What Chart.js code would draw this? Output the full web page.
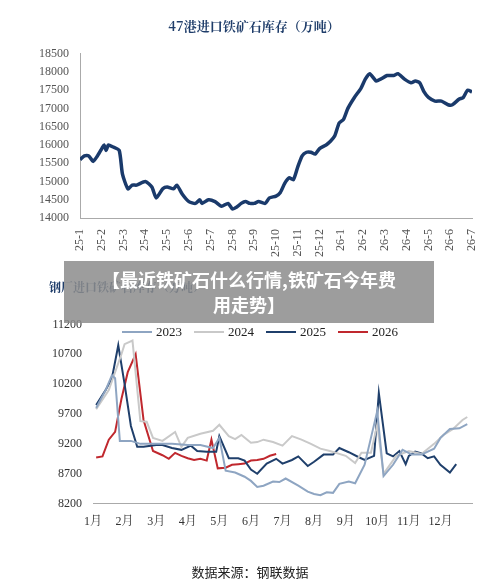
<!DOCTYPE html>
<html><head><meta charset="utf-8">
<script src="https://cdn.jsdelivr.net/npm/chart.js@4"></script>
<style>
body{margin:0;background:#fff;width:500px;height:586px;position:relative;overflow:hidden;font-family:"Liberation Serif","Noto Sans CJK SC",serif}
.w{position:absolute;left:0;width:500px}
#banner{position:absolute;left:64px;top:261px;width:370px;height:62px;background:rgba(140,140,140,0.85);color:#fff;font:bold 18px "Noto Sans CJK SC",sans-serif;text-align:center;line-height:25px;padding-top:6px;box-sizing:border-box}
#leg{position:absolute;top:324px;left:122px;font:13px "Liberation Serif","Noto Sans CJK SC",serif;color:#222;display:flex;gap:0}
#leg span{display:inline-flex;align-items:center;margin-right:12px}
#leg i{display:inline-block;width:30px;height:2.5px;margin-right:4px}
#foot{position:absolute;top:562px;left:0;width:500px;text-align:center;font:13px "Noto Sans CJK SC",sans-serif;color:#222}
</style></head><body>
<div class="w" style="top:0;height:260px"><canvas id="c1"></canvas></div>
<div class="w" style="top:260px;height:326px"><canvas id="c2"></canvas></div>
<div id="leg"></div>
<div id="foot">数据来源：钢联数据</div>
<div id="banner">【最近铁矿石什么行情,铁矿石今年费<br>用走势】</div>
<script>
const topMonths=["25-1","25-2","25-3","25-4","25-5","25-6","25-7","25-8","25-9","25-10","25-11","25-12","26-1","26-2","26-3","26-4","26-5","26-6","26-7"];
const topX=[0,0.2,0.4,0.6,0.8,1.0,1.1,1.2,1.3,1.5,1.8,1.95,2.2,2.4,2.6,3.0,3.3,3.5,3.8,4.0,4.3,4.45,4.7,5.0,5.3,5.5,5.6,5.9,6.2,6.5,6.8,7.0,7.2,7.4,7.6,7.8,8.0,8.2,8.5,8.7,9.0,9.2,9.4,9.6,9.8,10.0,10.2,10.4,10.6,10.8,11.0,11.3,11.5,11.7,11.9,12.1,12.3,12.6,12.9,13.1,13.3,13.6,13.8,14.1,14.4,14.6,14.9,15.2,15.4,15.6,15.8,16.0,16.3,16.6,16.9,17.1,17.4,17.6,17.8,18.0];
const topY=[15600,15700,15700,15550,15700,15900,16000,15850,16000,15950,15850,15200,14800,14900,14900,15000,14850,14550,14800,14850,14800,14900,14650,14450,14400,14500,14400,14500,14450,14320,14400,14250,14300,14400,14450,14400,14400,14450,14400,14550,14600,14700,14950,15100,15050,15400,15700,15800,15800,15750,15900,16000,16100,16250,16600,16700,17000,17300,17550,17800,17950,17750,17800,17900,17900,17950,17800,17700,17750,17700,17450,17300,17200,17200,17100,17100,17250,17300,17500,17450];

const months=["1月","2月","3月","4月","5月","6月","7月","8月","9月","10月","11月","12月"];
const years=["2023","2024","2025","2026"];
const colors=["#8ea5c2","#c9c9c9","#1f3f6b","#c0282e"];
const x2023=[0.1,0.4,0.6,0.7,0.85,1.2,1.5,2.0,2.5,3.0,3.4,3.8,4.0,4.2,4.5,4.8,5.0,5.2,5.4,5.7,5.9,6.1,6.5,6.8,7.0,7.2,7.4,7.6,7.8,8.1,8.3,8.6,8.8,9.0,9.2,9.5,9.8,10.1,10.4,10.8,11.0,11.3,11.6,11.85];
const y2023=[9800,10100,10350,10300,9250,9250,9200,9200,9200,9180,9180,9130,9300,8750,8720,8650,8580,8480,8500,8570,8560,8620,8500,8400,8360,8340,8390,8380,8530,8570,8540,8850,9300,9750,8660,8850,9100,9020,9020,9120,9300,9450,9460,9530];
const x2024=[0.1,0.5,0.9,1.0,1.25,1.5,1.7,1.9,2.2,2.6,2.8,3.0,3.4,3.8,4.0,4.3,4.5,4.7,5.0,5.2,5.4,5.7,6.0,6.3,6.6,6.9,7.2,7.5,8.0,8.3,8.5,8.8,9.0,9.2,9.6,10.0,10.4,10.8,11.1,11.4,11.7,11.85];
const y2024=[9780,10100,10700,10870,10930,9580,9570,9300,9250,9400,9150,9300,9370,9420,9520,9330,9280,9350,9220,9230,9270,9230,9170,9330,9270,9200,9120,9080,9000,8880,9050,9050,9520,8700,9000,9080,9030,9200,9350,9450,9600,9650];
const x2025=[0.1,0.4,0.6,0.8,1.0,1.2,1.4,1.6,2.0,2.2,2.5,2.8,3.1,3.3,3.6,3.9,4.0,4.3,4.6,4.8,5.0,5.2,5.5,5.8,6.0,6.3,6.5,6.8,7.0,7.3,7.6,7.8,8.1,8.4,8.6,8.9,9.05,9.3,9.5,9.7,9.9,10.0,10.2,10.4,10.6,10.8,11.0,11.3,11.5];
const y2025=[9850,10100,10300,10850,10200,9500,9150,9150,9180,9180,9130,9100,9170,9080,9070,9070,9330,8960,8960,8920,8770,8700,8870,8950,8870,8930,8990,8830,8900,9020,9020,9130,9060,8980,8930,9000,10050,9040,8990,9080,8860,9000,9070,9040,8960,8990,8850,8720,8860];
const x2026=[0.1,0.3,0.5,0.7,0.9,1.1,1.35,1.6,1.9,2.2,2.4,2.6,2.8,3.0,3.2,3.4,3.6,3.75,3.95,4.2,4.4,4.6,4.8,5.0,5.2,5.4,5.6,5.8];
const y2026=[8970,8990,9270,9400,9950,10400,10700,9600,9080,9010,8950,9050,9000,8960,8930,8950,8920,9270,8790,8800,8850,8860,8870,8920,8930,8950,9000,9030];

const xs=[x2023,x2024,x2025,x2026];
const ys=[y2023,y2024,y2025,y2026];

const serif="'Liberation Serif','Noto Serif CJK SC',serif";
const pts=(xa,ya)=>xa.map((x,i)=>({x,y:ya[i]}));

new Chart(document.getElementById('c1'),{type:'line',
 data:{datasets:[{data:pts(topX,topY),borderColor:'#1a3a6b',borderWidth:3.5,pointRadius:0,tension:0.2}]},
 options:{responsive:true,maintainAspectRatio:false,animation:false,
  layout:{padding:{left:36,right:28,top:0,bottom:0}},
  plugins:{legend:{display:false},title:{display:true,text:'47港进口铁矿石库存（万吨）',color:'#1f3d6a',font:{family:"'Noto Serif CJK SC','Noto Sans CJK SC',serif",size:13,weight:'bold'},padding:{top:18,bottom:20}}},
  scales:{
   x:{type:'linear',min:0,max:18,grid:{display:false,drawTicks:true},border:{color:'#aaa'},
      ticks:{stepSize:1,autoSkip:false,minRotation:90,maxRotation:90,color:'#555',font:{family:serif,size:12},callback:v=>topMonths[v]}},
   y:{min:14000,max:18500,grid:{display:false},border:{color:'#aaa'},
      ticks:{stepSize:500,autoSkip:false,color:'#555',font:{family:serif,size:12},callback:v=>String(v)}}}}});

document.getElementById('leg').innerHTML=years.map((y,i)=>`<span><i style="background:${colors[i]}"></i>${y}</span>`).join('');

new Chart(document.getElementById('c2'),{type:'line',
 data:{datasets:years.map((y,i)=>({label:y,data:pts(xs[i],ys[i]),borderColor:colors[i],borderWidth:2,pointRadius:0,tension:0}))},
 options:{responsive:true,maintainAspectRatio:false,animation:false,
  layout:{padding:{left:49,right:28,top:0,bottom:54}},
  plugins:{legend:{display:false},title:{display:true,text:'钢厂进口铁矿石库存（万吨）',align:'start',color:'#1f3d6a',font:{family:"'Noto Serif CJK SC','Noto Sans CJK SC',serif",size:12,weight:'bold'},padding:{top:20,bottom:30}}},
  scales:{
   x:{type:'linear',min:0,max:12,grid:{display:false},border:{color:'#aaa'},
      ticks:{stepSize:1,autoSkip:false,maxRotation:0,color:'#333',font:{family:serif,size:12},callback:v=>months[v]}},
   y:{min:8200,max:11200,grid:{display:false},border:{display:false},
      ticks:{stepSize:500,color:'#333',font:{family:serif,size:12},callback:v=>[8200,8700,9200,9700,10200,10700,11200].includes(v)?String(v):null}}}}});
</script></body></html>
